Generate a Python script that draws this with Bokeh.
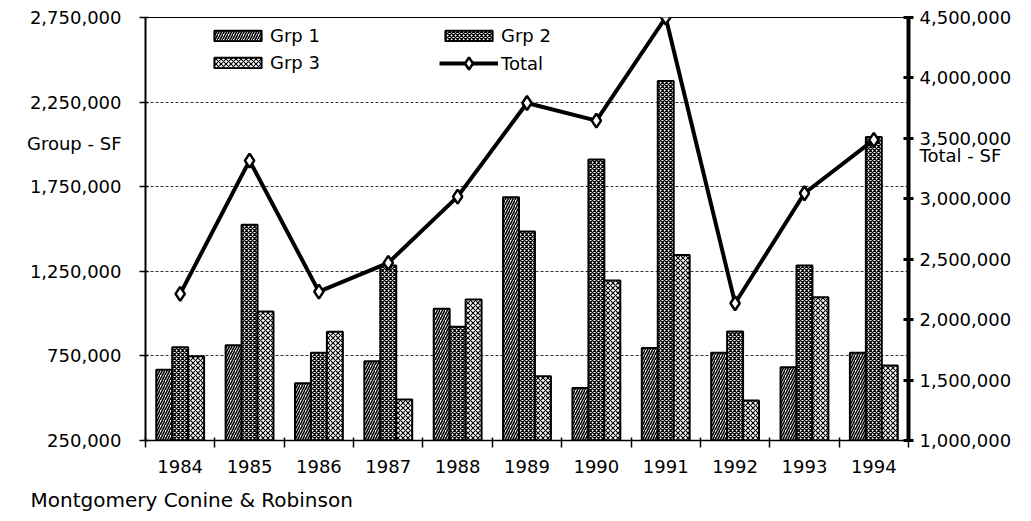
from bokeh.plotting import figure
from bokeh.models import (Range1d, LinearAxis, FixedTicker, NumeralTickFormatter,
                          Legend, LegendItem, Title, ColumnDataSource)
from bokeh.transform import dodge
from bokeh.embed import file_html
from bokeh.resources import INLINE

years = ["1984", "1985", "1986", "1987", "1988", "1989", "1990", "1991", "1992", "1993", "1994"]
grp1 = [668000, 813000, 589000, 719000, 1028000, 1688000, 561000, 796000, 768000, 683000, 768000]
grp2 = [801000, 1525000, 768000, 1285000, 922000, 1485000, 1911000, 2374000, 894000, 1284000, 2043000]
grp3 = [748000, 1012000, 892000, 492000, 1083000, 630000, 1196000, 1347000, 486000, 1097000, 693000]
total = [2213000, 3316000, 2232000, 2470000, 3018000, 3793000, 3647000, 4500000, 2136000, 3046000, 3487000]

left_ticks = [250000, 750000, 1250000, 1750000, 2250000, 2750000]
right_ticks = [1000000, 1500000, 2000000, 2500000, 3000000, 3500000, 4000000, 4500000]
left_title, left_title_at = "Group - SF", 2005000
right_title, right_title_at = "Total - SF", 3357000

FONT = "DejaVu Sans"
n = len(years)
slots = [i + 0.5 for i in range(n)]

src = ColumnDataSource(dict(slot=slots, year=years, g1=grp1, g2=grp2, g3=grp3, total=total))

p = figure(width=1023, height=521, x_range=Range1d(0, n), y_range=Range1d(250000, 2750000),
           output_backend="svg", toolbar_location=None, tools="",
           min_border_left=145, min_border_right=115, min_border_top=17, min_border_bottom=81)
p.extra_y_ranges = {"tot": Range1d(1000000, 4500000)}
p.background_fill_color = "white"
p.border_fill_color = "white"
p.outline_line_color = "black"
p.outline_line_width = 1

# grids
p.xgrid.visible = False
p.ygrid.ticker = FixedTicker(ticks=left_ticks)
p.ygrid.grid_line_color = "#333333"
p.ygrid.grid_line_dash = "3 2"
p.ygrid.grid_line_width = 1

# bottom axis
xa = p.xaxis[0]
xa.ticker = FixedTicker(ticks=slots, minor_ticks=list(range(n + 1)))
xa.major_label_overrides = {s: y for s, y in zip(slots, years)}
xa.major_tick_line_color = None
xa.major_tick_out = 0
xa.major_tick_in = 0
xa.minor_tick_out = 7
xa.minor_tick_in = 3
xa.minor_tick_line_color = "black"
xa.minor_tick_line_width = 1.5
xa.axis_line_width = 1.5
xa.major_label_standoff = 12
xa.major_label_text_font = FONT
xa.major_label_text_font_size = "18px"
xa.major_label_text_color = "black"

# left axis: numeric labels plus the "Group - SF" title as one extra label;
# the visible tick marks are drawn as minor ticks at the value ticks only
ya = p.yaxis[0]
ya.ticker = FixedTicker(ticks=left_ticks + [left_title_at], minor_ticks=left_ticks)
ya.formatter = NumeralTickFormatter(format="0,0")
ya.major_label_overrides = {left_title_at: left_title}
ya.major_tick_line_color = None
ya.major_tick_out = 6
ya.major_tick_in = 3
ya.minor_tick_line_color = "black"
ya.minor_tick_line_width = 1.5
ya.minor_tick_out = 6
ya.minor_tick_in = 3
ya.axis_line_width = 2
ya.major_label_standoff = 18
ya.major_label_text_font = FONT
ya.major_label_text_font_size = "18px"
ya.major_label_text_color = "black"

# right axis
ra = LinearAxis(y_range_name="tot",
                ticker=FixedTicker(ticks=right_ticks + [right_title_at], minor_ticks=right_ticks),
                formatter=NumeralTickFormatter(format="0,0"),
                major_label_overrides={right_title_at: right_title})
ra.major_tick_line_color = None
ra.major_tick_in = 5
ra.major_tick_out = 5
ra.minor_tick_line_color = "black"
ra.minor_tick_line_width = 3
ra.minor_tick_in = 5
ra.minor_tick_out = 5
ra.axis_line_width = 4
ra.major_label_standoff = 6
ra.major_label_text_font = FONT
ra.major_label_text_font_size = "18px"
ra.major_label_text_color = "black"
p.add_layout(ra, "right")

# bars
bw = 0.23
b1 = p.vbar(x=dodge("slot", -bw, range=p.x_range), top="g1", bottom=250000, width=bw, source=src,
            fill_color="white", line_color="black", line_width=2,
            hatch_pattern="right_diagonal_line", hatch_scale=5, hatch_weight=1.6, hatch_color="black")
b2 = p.vbar(x=dodge("slot", 0, range=p.x_range), top="g2", bottom=250000, width=bw, source=src,
            fill_color="white", line_color="black", line_width=2,
            hatch_pattern="diagonal_cross", hatch_scale=4, hatch_weight=1.3, hatch_color="black")
b3 = p.vbar(x=dodge("slot", bw, range=p.x_range), top="g3", bottom=250000, width=bw, source=src,
            fill_color="white", line_color="black", line_width=2,
            hatch_pattern="diagonal_cross", hatch_scale=5, hatch_weight=1.1, hatch_color="black")

# total line
ln = p.line(x="slot", y="total", source=src, y_range_name="tot", line_color="black", line_width=4)
mk = p.scatter(x="slot", y="total", source=src, y_range_name="tot", marker="diamond", size=14,
               fill_color="white", line_color="black", line_width=2.5)

def mk_legend(items, loc, gh=13, lh=21):
    return Legend(items=items, location=loc, orientation="vertical", padding=0, margin=0,
                  spacing=6, glyph_width=59, glyph_height=gh, label_height=lh, label_standoff=3,
                  border_line_color=None, background_fill_alpha=0,
                  label_text_font=FONT, label_text_font_size="18px", label_text_color="black")

p.add_layout(mk_legend([LegendItem(label="Grp 1", renderers=[b1]),
                        LegendItem(label="Grp 3", renderers=[b3])], (63, 367)), "center")
p.add_layout(mk_legend([LegendItem(label="Grp 2", renderers=[b2])], (294, 394)), "center")
p.add_layout(mk_legend([LegendItem(label="Total", renderers=[ln, mk])], (294, 362), gh=30, lh=30),
             "center")

# credit line under the chart
p.add_layout(Title(text="Montgomery Conine & Robinson", align="left", offset=-115, standoff=20,
                   text_font=FONT, text_font_size="20px", text_font_style="normal",
                   text_color="black"), "below")

open("out.html", "w").write(file_html(p, INLINE))
